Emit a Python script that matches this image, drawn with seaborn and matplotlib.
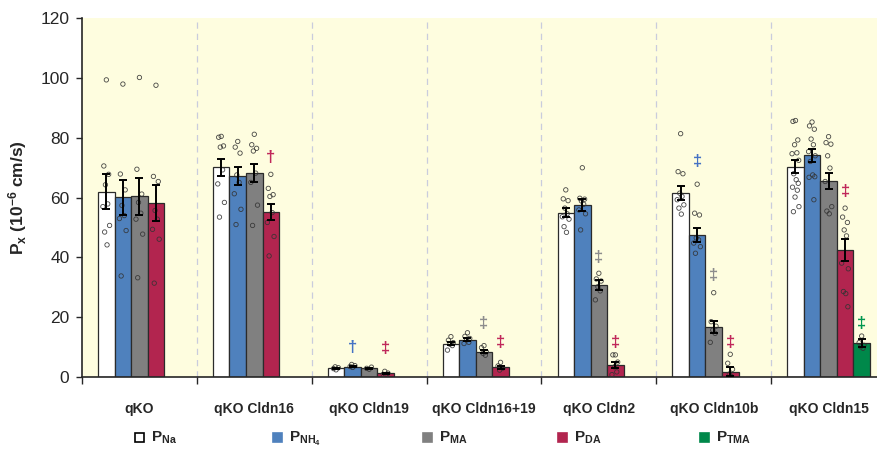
import numpy as np
import pandas as pd
import matplotlib
matplotlib.use("Agg")
import matplotlib.pyplot as plt
from matplotlib.patches import Rectangle
import seaborn as sns

# ---------------- data ----------------
groups = ['qKO', 'qKO Cldn16', 'qKO Cldn19', 'qKO Cldn16+19', 'qKO Cldn2', 'qKO Cldn10b', 'qKO Cldn15']
ions = ['Na', 'NH4', 'MA', 'DA', 'TMA']
ion_labels = [r'P$_{Na}$', r'P$_{NH_4}$', r'P$_{MA}$', r'P$_{DA}$', r'P$_{TMA}$']

mean_Na = [62.0, 70.1, 2.9, 11.2, 55.0, 61.5, 70.4]
mean_NH4 = [60.1, 67.3, 3.5, 12.4, 57.5, 47.5, 74.2]
mean_MA = [60.4, 68.2, 2.9, 8.4, 30.7, 16.8, 65.7]
mean_DA = [58.1, 55.2, 1.2, 3.2, 4.0, 1.8, 42.5]
mean_TMA = [np.nan, np.nan, np.nan, np.nan, np.nan, np.nan, 11.3]

sem_Na = [5.8, 2.9, 0.2, 0.6, 1.5, 2.4, 2.2]
sem_NH4 = [5.9, 3.1, 0.2, 0.5, 2.0, 2.3, 2.2]
sem_MA = [6.1, 3.1, 0.2, 0.5, 1.6, 2.0, 2.7]
sem_DA = [6.0, 2.6, 0.3, 0.4, 1.1, 1.6, 3.6]
sem_TMA = [np.nan, np.nan, np.nan, np.nan, np.nan, np.nan, 1.3]

dots_Na = [
    [99.4, 70.6, 67.8, 64.3, 57.9, 57.0, 50.7, 48.5, 44.2],
    [80.5, 80.2, 77.3, 76.9, 69.3, 64.6, 58.4, 53.5],
    [2.4, 2.8, 3.1, 3.4],
    [13.5, 12.3, 11.5, 11.0, 10.5, 9.0],
    [62.6, 59.6, 59.0, 56.5, 54.6, 53.6, 52.8, 50.3, 48.4],
    [81.4, 68.7, 68.0, 61.5, 60.4, 59.3, 57.6, 56.5, 54.5],
    [85.8, 85.5, 79.3, 77.7, 75.0, 74.7, 72.5, 68.0, 66.0, 64.8, 63.5, 62.5, 60.2, 57.0, 55.3],
]
dots_NH4 = [
    [98.0, 67.9, 62.6, 57.4, 54.0, 53.0, 49.0, 33.8],
    [78.8, 76.9, 74.9, 67.6, 65.1, 61.3, 56.1, 51.0],
    [3.2, 3.5, 3.8, 4.2],
    [14.8, 13.6, 12.9, 12.4, 11.6, 11.2],
    [70.0, 59.8, 59.5, 58.9, 57.8, 55.9, 54.6, 49.2],
    [64.5, 54.8, 54.2, 46.5, 45.9, 44.8, 43.6, 41.4],
    [85.3, 84.0, 82.9, 79.6, 77.7, 75.4, 74.0, 72.1, 67.6, 67.0, 66.8, 59.3],
]
dots_MA = [
    [100.2, 69.5, 61.2, 58.4, 54.8, 52.8, 47.8, 33.2],
    [81.2, 77.7, 76.5, 75.6, 68.2, 65.1, 57.5, 50.7],
    [2.6, 2.9, 3.3],
    [10.5, 9.8, 8.4, 7.9, 7.3],
    [34.7, 32.8, 32.1, 30.2, 28.8, 25.8],
    [28.2, 18.5, 17.0, 15.7, 14.6, 11.6],
    [80.4, 78.4, 77.9, 74.0, 69.9, 65.4, 57.0, 55.5, 54.6],
]
dots_DA = [
    [97.6, 67.1, 65.4, 55.7, 52.8, 49.4, 46.1, 31.4],
    [67.8, 63.1, 61.0, 60.4, 55.0, 51.7, 47.0, 40.5],
    [0.4, 0.9, 1.3, 1.9],
    [4.9, 3.7, 3.0, 2.3],
    [7.4, 7.4, 5.0, 3.4, 1.7, 0.8],
    [7.6, 4.6, 2.6, 1.0, 0.1],
    [56.5, 53.5, 51.7, 49.2, 47.2, 38.1, 36.2, 28.6, 27.9, 23.5],
]
dots_TMA = [[], [], [], [], [], [], [13.7, 11.5, 10.6, 10.1, 9.6]]

sig_group = [1, 2, 2, 3, 3, 4, 4, 5, 5, 5, 6, 6]
sig_ion = ['DA', 'NH4', 'DA', 'MA', 'DA', 'MA', 'DA', 'NH4', 'MA', 'DA', 'DA', 'TMA']
sig_symbol = ['†', '†', '‡', '‡', '‡', '‡', '‡', '‡', '‡', '‡', '‡', '‡']
sig_y = [73.5, 10.0, 9.7, 18.0, 11.4, 40.0, 11.7, 72.0, 34.0, 11.4, 62.0, 18.0]

y_ticks = [0, 20, 40, 60, 80, 100, 120]

# ---------------- style ----------------
colors = {'Na': '#FFFFFF', 'NH4': '#4F81BD', 'MA': '#808080', 'DA': '#B2254F', 'TMA': '#00884A'}
sig_colors = {'NH4': '#4472C4', 'MA': '#8C8C8C', 'DA': '#C0285A', 'TMA': '#00964F'}

sns.set_style('ticks')
plt.rcParams['font.family'] = ['Liberation Sans', 'DejaVu Sans']
plt.rcParams['mathtext.fontset'] = 'custom'
plt.rcParams['mathtext.rm'] = 'Liberation Sans:bold'
plt.rcParams['mathtext.bf'] = 'Liberation Sans:bold'
plt.rcParams['mathtext.it'] = 'Liberation Sans:bold'
plt.rcParams['mathtext.default'] = 'regular'

means = {'Na': mean_Na, 'NH4': mean_NH4, 'MA': mean_MA, 'DA': mean_DA, 'TMA': mean_TMA}
sems = {'Na': sem_Na, 'NH4': sem_NH4, 'MA': sem_MA, 'DA': sem_DA, 'TMA': sem_TMA}
dots = {'Na': dots_Na, 'NH4': dots_NH4, 'MA': dots_MA, 'DA': dots_DA, 'TMA': dots_TMA}

rows = []
for ion in ions:
    for g, m in zip(groups, means[ion]):
        if not np.isnan(m):
            rows.append({'group': g, 'ion': ion, 'value': m})
df = pd.DataFrame(rows)

W, H = 877, 454
fig = plt.figure(figsize=(W / 100, H / 100), dpi=100)
ax = fig.add_axes([82 / W, 1 - 377 / H, (886 - 82) / W, (377 - 18.3) / H])
ax.set_facecolor('#FEFDDF')

BAR_W = 0.72
slot = BAR_W / len(ions)
sns.barplot(data=df, x='group', y='value', hue='ion', order=groups, hue_order=ions,
            palette=colors, width=BAR_W, gap=0, errorbar=None, legend=False,
            edgecolor='#2b2b2b', linewidth=0.9, saturation=1, ax=ax, zorder=2)

jit = [0.0, -0.022, 0.02, -0.008, 0.012, -0.03, 0.028, -0.015, 0.006, 0.024,
       -0.026, 0.016, -0.004, 0.03, -0.018]
for k, ion in enumerate(ions):
    for gi in range(len(groups)):
        xc = gi + slot * (k - 2)
        vals = dots[ion][gi]
        if vals:
            xs = [xc + jit[i % len(jit)] for i in range(len(vals))]
            ax.scatter(xs, vals, s=10, facecolors='none', edgecolors='#333333',
                       linewidths=0.6, zorder=3, alpha=0.9)
        m = means[ion][gi]
        if not np.isnan(m):
            ax.errorbar(xc, m, yerr=sems[ion][gi], fmt='none', ecolor='black',
                        elinewidth=1.4, capsize=2.6, capthick=1.4, zorder=4)

for g, ion, sym, yv in zip(sig_group, sig_ion, sig_symbol, sig_y):
    xc = g + slot * (ions.index(ion) - 2)
    ax.text(xc, yv, sym, color=sig_colors[ion], fontsize=12, fontweight='bold',
            ha='center', va='center', zorder=5)

ax.set_xlim(-0.5, len(groups) - 0.5)
ax.set_ylim(0, 120)
ax.set_yticks(y_ticks)
ax.tick_params(axis='y', labelsize=12.5, length=4, width=1, direction='out', pad=5)
ax.set_xticks(range(len(groups)))
ax.set_xticklabels(groups, fontsize=10, fontweight='bold')
ax.tick_params(axis='x', which='major', length=0, pad=18)
ax.set_xticks(np.arange(-0.5, len(groups)), minor=True)
ax.tick_params(axis='x', which='minor', length=5, width=1, direction='out')
for xb in np.arange(0.5, len(groups) - 0.5):
    ax.axvline(xb, color='#C9CCDD', linestyle=(0, (5, 4)), linewidth=0.9, zorder=1)
ax.set_xlabel('')
ax.set_ylabel(r'P$_x$ (10$^{-6}$ cm/s)', fontsize=12.5, fontweight='bold', labelpad=8)
for s in ['top', 'right']:
    ax.spines[s].set_visible(False)
ax.spines['left'].set_linewidth(1.2)
ax.spines['bottom'].set_linewidth(1.2)

# legend row
leg_x = [135, 273, 423, 558, 700]
for ion, lab, lx in zip(ions, ion_labels, leg_x):
    sq = Rectangle((lx / W, 1 - 442 / H), 9 / W, 9 / H, transform=fig.transFigure,
                   facecolor=colors[ion], edgecolor='black' if ion == 'Na' else colors[ion],
                   linewidth=1.2, figure=fig)
    fig.patches.append(sq)
    fig.text((lx + 16) / W, 1 - 442 / H, lab, fontsize=11, fontweight='bold',
             va='baseline', ha='left', transform=fig.transFigure)

fig.savefig('out.png', dpi=100)
